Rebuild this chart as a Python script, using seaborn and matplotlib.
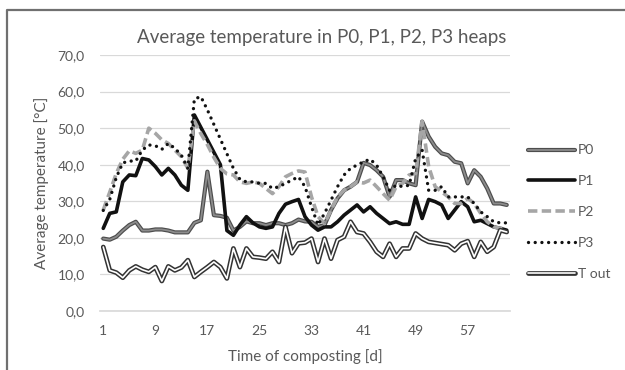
import matplotlib
matplotlib.use("Agg")
import matplotlib.pyplot as plt
import matplotlib.patheffects as pe
from matplotlib.lines import Line2D
import seaborn as sns
import pandas as pd

days = list(range(1, 64))
tick_days = [1, 9, 17, 25, 33, 41, 49, 57]
y_ticks = [0, 10, 20, 30, 40, 50, 60, 70]
y_tick_labels = ["0,0", "10,0", "20,0", "30,0", "40,0", "50,0", "60,0", "70,0"]

p0 = [19.8, 19.5, 20.3, 22.0, 23.5, 24.4, 22.0, 22.0, 22.3, 22.3, 22.0, 21.5, 21.5, 21.5,
      24.1, 24.8, 38.1, 26.2, 26.0, 25.5, 22.0, 23.0, 24.5, 24.0, 24.0, 23.5, 24.0, 24.0,
      23.5, 24.0, 25.0, 24.5, 24.4, 23.0, 23.5, 27.6, 30.8, 33.0, 34.0, 35.3, 40.5, 39.9,
      38.5, 36.7, 31.2, 35.8, 35.8, 34.9, 34.4, 51.8, 47.7, 44.9, 43.1, 42.6, 40.8, 40.4,
      34.9, 38.5, 36.7, 33.5, 29.4, 29.4, 29.0]
p1 = [22.6, 26.7, 27.1, 35.3, 37.2, 37.0, 41.7, 41.3, 39.5, 37.2, 39.0, 37.2, 34.4, 33.0,
      53.6, 50.2, 46.8, 43.4, 40.0, 22.0, 20.7, 23.5, 25.8, 24.1, 23.0, 22.6, 23.0, 26.7,
      29.2, 29.9, 30.5, 25.8, 23.5, 22.1, 23.0, 23.0, 24.4, 26.2, 27.6, 29.0, 27.1, 28.5,
      26.7, 25.3, 23.9, 24.4, 23.7, 23.7, 31.2, 25.3, 30.5, 29.9, 29.0, 25.3, 27.6, 29.9,
      28.5, 24.4, 24.8, 23.9, 23.0, 22.6, 22.1]
p2 = [27.6, 32.5, 37.6, 41.5, 43.8, 43.1, 44.0, 50.0, 48.6, 46.8, 45.8, 44.0, 42.2, 39.0,
      52.0, 48.5, 45.5, 42.0, 39.0, 37.5, 37.2, 35.3, 34.9, 35.3, 34.9, 33.5, 32.1, 34.0,
      36.7, 37.6, 38.3, 38.0, 31.2, 25.8, 23.9, 27.6, 31.2, 33.0, 34.0, 35.3, 35.0, 35.8,
      34.0, 32.1, 30.3, 34.0, 34.9, 37.2, 37.6, 51.8, 39.5, 34.0, 32.6, 31.2, 29.4, 29.4,
      30.8, 29.4, 26.7, 24.4, 23.0, 22.6, 22.6]
p3 = [27.5, 30.5, 36.5, 40.5, 41.0, 41.0, 44.0, 45.4, 45.2, 44.2, 45.8, 44.5, 42.6, 39.0,
      58.0, 58.6, 55.0, 51.0, 47.0, 43.0, 39.0, 36.0, 35.3, 35.3, 34.9, 34.9, 33.5, 34.0,
      34.9, 35.8, 36.7, 34.0, 28.5, 23.5, 26.7, 30.3, 34.0, 37.2, 39.0, 39.9, 40.8, 41.5,
      39.9, 36.7, 33.0, 34.4, 34.0, 34.4, 41.7, 44.0, 33.0, 33.0, 34.0, 31.2, 31.2, 31.2,
      31.2, 29.4, 27.1, 25.8, 24.4, 24.1, 24.1]
t_out = [17.5, 11.1, 10.5, 9.1, 11.1, 12.2, 11.3, 10.7, 12.0, 8.2, 12.2, 11.1, 11.9, 13.9,
         9.3, 10.7, 12.0, 13.4, 12.0, 8.9, 17.1, 12.0, 17.1, 14.8, 14.6, 14.3, 16.2, 13.4,
         23.0, 15.8, 18.5, 18.7, 19.8, 13.4, 19.8, 14.3, 19.4, 20.3, 24.4, 21.6, 21.2, 18.9,
         16.2, 14.8, 18.4, 14.8, 17.1, 17.1, 21.2, 19.8, 18.9, 18.6, 18.3, 18.0, 16.6, 18.4,
         19.1, 14.8, 18.9, 16.2, 17.5, 22.1, 21.6]

series_names = ["P0", "P1", "P2", "P3", "T out"]
series_values = [p0, p1, p2, p3, t_out]

sns.set_theme(style="white")
plt.rcParams["font.family"] = ["Lato", "DejaVu Sans"]

fig = plt.figure(figsize=(6.25, 3.7), dpi=100)
ax = fig.add_axes([100 / 625, 1 - 311 / 370, 410 / 625, 256 / 370])

txt = "#595959"
for name, vals in zip(series_names, series_values):
    df = pd.DataFrame({"day": days, "temp": vals})
    sns.lineplot(data=df, x="day", y="temp", ax=ax, label=name, sort=False)

lines = ax.get_lines()
# P0: gray with dark edges
lines[0].set_color("#8c8c8c")
lines[0].set_linewidth(1.3)
lines[0].set_path_effects([pe.Stroke(linewidth=3.0, foreground="#4d4d4d"), pe.Normal()])
# P1: black solid
lines[1].set_color("#111111")
lines[1].set_linewidth(2.6)
# P2: gray dashed
lines[2].set_color("#a6a6a6")
lines[2].set_linewidth(2.6)
lines[2].set_dashes((2.6, 1.2))
# P3: black dotted
lines[3].set_color("#111111")
lines[3].set_linewidth(2.4)
lines[3].set_dashes((0.01, 2.0))
lines[3].set_dash_capstyle("round")
# T out: double line
lines[4].set_color("white")
lines[4].set_linewidth(1.2)
lines[4].set_path_effects([pe.Stroke(linewidth=3.4, foreground="#333333"), pe.Normal()])

ax.set_xlim(0.5, 63.5)
ax.set_ylim(0, 70)
ax.set_xticks(tick_days)
ax.set_xticklabels([str(d) for d in tick_days])
ax.set_yticks(y_ticks)
ax.set_yticklabels(y_tick_labels)
ax.tick_params(axis="both", length=0, labelsize=10, colors=txt)
ax.tick_params(axis="x", pad=10)
ax.tick_params(axis="y", pad=11)
ax.yaxis.grid(True, color="#d9d9d9", linewidth=0.9)
ax.xaxis.grid(False)
for s in ["top", "right", "left"]:
    ax.spines[s].set_visible(False)
ax.spines["bottom"].set_color("#d9d9d9")
ax.set_xlabel("Time of composting [d]", fontsize=11, color=txt, labelpad=9)
ax.set_ylabel("Average temperature [°C]", fontsize=11, color=txt, labelpad=6)

fig.text(0.515, 1 - 37 / 370, "Average temperature in P0, P1, P2, P3 heaps",
         ha="center", va="center", fontsize=13.5, color=txt)

leg = ax.legend(loc="center left", bbox_to_anchor=(515 / 625, 1 - 212 / 370),
                bbox_transform=fig.transFigure, frameon=False, fontsize=10,
                handlelength=3.4, handletextpad=0.2, labelspacing=1.35)
for t in leg.get_texts():
    t.set_color(txt)

# chart-area frame (left & top edges visible)
fig.add_artist(Line2D([7 / 625, 7 / 625, 1.0], [0.0, 1 - 10 / 370, 1 - 10 / 370],
                      transform=fig.transFigure, color="#707070", linewidth=1.6))

fig.savefig("out.png", dpi=100)
